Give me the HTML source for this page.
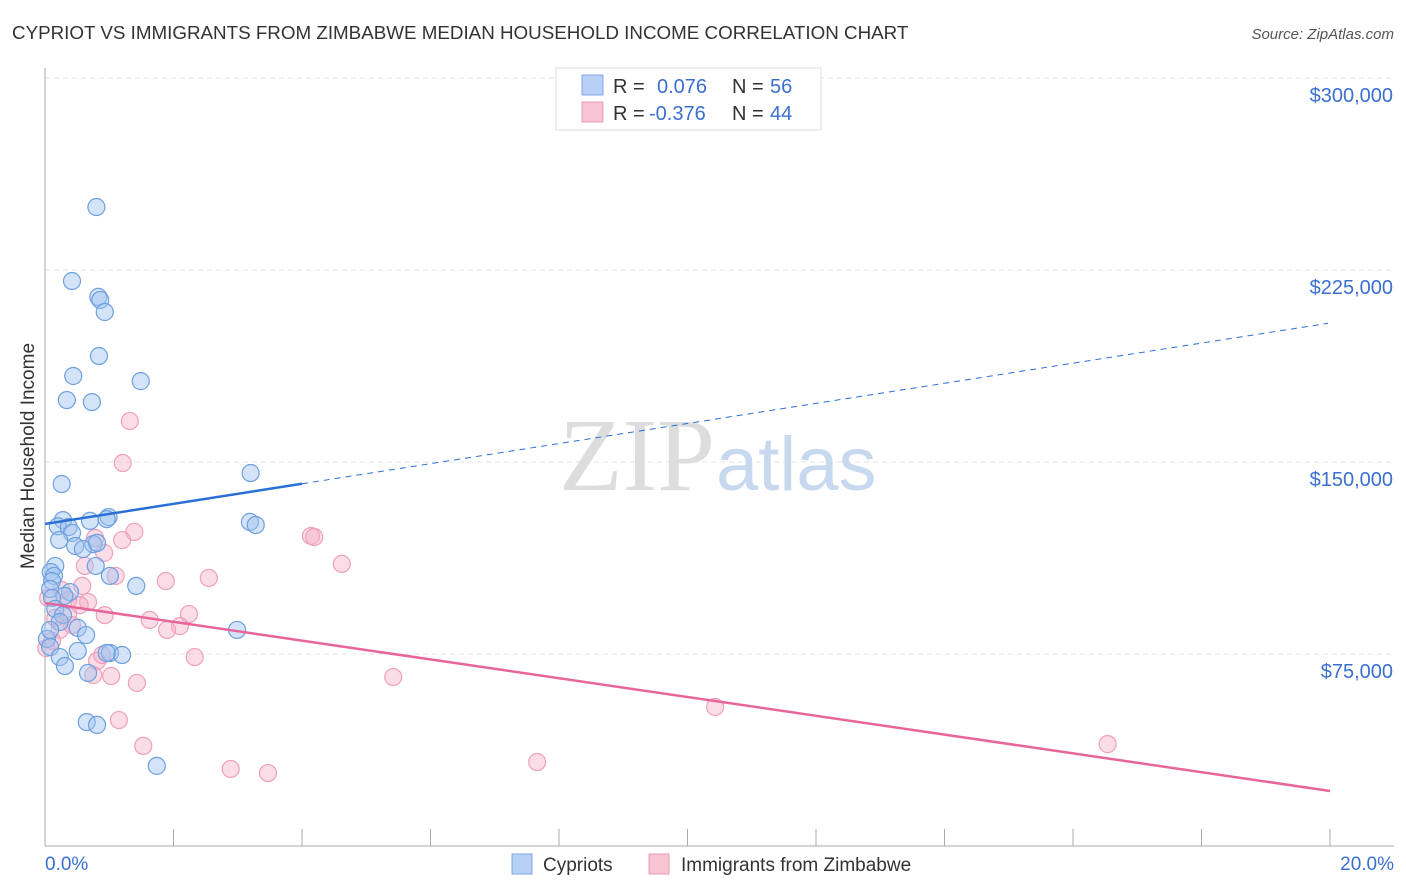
<!DOCTYPE html>
<html><head><meta charset="utf-8"><style>
body{margin:0;background:#fff;font-family:"Liberation Sans",sans-serif;}
svg{display:block}
</style></head><body>
<svg id="chart" width="1406" height="892">
<text x="12" y="39" font-size="18.8" fill="#333">CYPRIOT VS IMMIGRANTS FROM ZIMBABWE MEDIAN HOUSEHOLD INCOME CORRELATION CHART</text>
<text x="1394" y="39" font-size="15" fill="#555" font-style="italic" text-anchor="end">Source: ZipAtlas.com</text>
<text x="0" y="0" font-size="19" fill="#333" transform="translate(34,456) rotate(-90)" text-anchor="middle">Median Household Income</text>
<g id="grid"></g>
<text x="715" y="490" font-size="104" fill="#ddd" font-family="Liberation Serif,serif" text-anchor="end">ZIP</text>
<text x="716" y="490" font-size="76" fill="#c8d8ef">atlas</text>
<g id="pts"></g>
<g id="lines"></g>
<g>
<rect x="556" y="68" width="265" height="62" fill="#fff" stroke="#ddd"/>
<rect x="582" y="75" width="21" height="20" fill="#b8d0f5" stroke="#7fa8e8"/>
<text x="613" y="93" font-size="20" fill="#333">R = </text><text x="657" y="93" font-size="20" fill="#3a6fd0">0.076</text>
<text x="732" y="93" font-size="20" fill="#333">N = </text><text x="770" y="93" font-size="20" fill="#3a6fd0">56</text>
<rect x="582" y="102" width="21" height="20" fill="#f8c4d4" stroke="#ee99b4"/>
<text x="613" y="120" font-size="20" fill="#333">R = </text><text x="649" y="120" font-size="20" fill="#3a6fd0">-0.376</text>
<text x="732" y="120" font-size="20" fill="#333">N = </text><text x="770" y="120" font-size="20" fill="#3a6fd0">44</text>
</g>
<g>
<rect x="512" y="854" width="20" height="20" fill="#b8d0f5" stroke="#7fa8e8"/>
<text x="543" y="871" font-size="19" fill="#333">Cypriots</text>
<rect x="649" y="854" width="20" height="20" fill="#f8c4d4" stroke="#ee99b4"/>
<text x="681" y="871" font-size="19" fill="#333">Immigrants from Zimbabwe</text>
</g>
<text x="45" y="870" font-size="19" fill="#3a6fd0">0.0%</text>
<text x="1394" y="870" font-size="19" fill="#3a6fd0" text-anchor="end">20.0%</text>
</svg>
<script>
const yTicks=[75000,150000,225000,300000];
const yTickLabels=["$75,000","$150,000","$225,000","$300,000"];
const blueX=[0.8,0.42,0.83,0.86,0.93,0.84,0.44,1.49,0.34,0.73,3.2,0.26,0.28,0.7,0.99,0.96,0.2,0.37,0.42,3.19,3.28,0.22,0.75,0.47,0.59,0.81,0.79,0.16,0.09,0.14,1.42,1.01,0.11,0.08,0.39,0.3,0.11,0.16,0.28,0.23,0.51,0.64,2.99,0.03,0.08,0.51,1.01,1.2,0.96,0.23,0.31,0.67,0.65,0.81,1.74,0.08];
const blueY=[249600,220700,214500,213300,208600,191400,183600,181600,174200,173400,145700,141400,127300,127000,128500,127700,124900,124600,122300,126600,125400,119500,117900,117200,116000,118400,109400,109400,107000,105500,101600,105500,103500,100400,99200,97700,96900,92600,90200,87500,85200,82400,84400,80900,77700,76200,75400,74600,75400,73800,70300,67600,48400,47300,31300,84400];
const pinkX=[1.21,1.32,4.14,4.19,4.62,1.39,0.78,1.2,0.92,0.62,1.1,1.88,2.55,0.58,0.26,0.36,0.67,0.54,0.05,0.93,2.24,1.63,2.1,1.9,0.16,0.36,0.23,0.42,0.02,0.11,0.81,0.89,2.33,1.03,0.75,1.43,5.42,10.43,1.15,1.53,2.89,3.47,7.66,16.54];
const pinkY=[149600,166000,121100,120700,110200,122700,120300,119500,114500,109400,105500,103500,104700,101600,100000,96100,95300,94100,96900,90200,90600,88300,85900,84400,89100,90600,84400,86300,77300,80100,72300,74600,73800,66400,66800,63700,66000,54300,49200,39100,30100,28500,32800,39800];
const blueTrend=[125800,204300]; // value at 0% and 20%
const blueSolidEnd=[4.0];
const pinkTrend=[94900,21500];
const W0=45,W1=1330,Y0=846;
const sx=v=>W0+v/20*(W1-W0);
const sy=v=>Y0-v/75000*192;
const NS="http://www.w3.org/2000/svg";
function mk(tag,attrs,parent){const e=document.createElementNS(NS,tag);for(const k in attrs)e.setAttribute(k,attrs[k]);parent.appendChild(e);return e;}
const grid=document.getElementById('grid');
yTicks.forEach((t,i)=>{
 const l=mk('line',{x1:W0,x2:1394,y1:sy(t),y2:sy(t),stroke:'#e3e3e3','stroke-dasharray':'5,4'},grid);
 
 
 const tx=mk('text',{x:1393,y:sy(t)+24,'font-size':20,fill:'#3a6fd0','text-anchor':'end'},grid);
 tx.textContent=yTickLabels[i];
 
 
});
const ax=mk('line',{x1:W0,x2:W0,y1:68,y2:846,stroke:'#aaa'},grid);


const bx=mk('line',{x1:W0,x2:1394,y1:846,y2:846,stroke:'#aaa'},grid);


for(let i=0;i<=10;i++){const t=mk('line',{x1:sx(i*2),x2:sx(i*2),y1:829,y2:846,stroke:'#aaa'},grid);
 
 }
const pts=document.getElementById('pts');
pinkX.forEach((x,i)=>{const c=mk('circle',{cx:sx(x),cy:sy(pinkY[i]),r:8.5,fill:'rgba(246,170,195,0.4)',stroke:'#efa0ba','stroke-width':1.2},pts);
 
 });
blueX.forEach((x,i)=>{const c=mk('circle',{cx:sx(x),cy:sy(blueY[i]),r:8.5,fill:'rgba(160,195,240,0.45)',stroke:'#6e9fe0','stroke-width':1.2},pts);
 
 });
const lines=document.getElementById('lines');
const bv=x=>blueTrend[0]+(blueTrend[1]-blueTrend[0])*x/20;
const pv=x=>pinkTrend[0]+(pinkTrend[1]-pinkTrend[0])*x/20;
const e=blueSolidEnd[0];
let l1=mk('line',{x1:sx(0),y1:sy(bv(0)),x2:sx(e),y2:sy(bv(e)),stroke:'#2a6fd6','stroke-width':2.5},lines);


let l2=mk('line',{x1:sx(e),y1:sy(bv(e)),x2:sx(19.97),y2:sy(bv(19.97)),stroke:'#2a6fd6','stroke-width':1,'stroke-dasharray':'6,5'},lines);


let l3=mk('line',{x1:sx(0),y1:sy(pv(0)),x2:sx(20),y2:sy(pv(20)),stroke:'#e8659a','stroke-width':2.5},lines);


</script>
</body></html>
